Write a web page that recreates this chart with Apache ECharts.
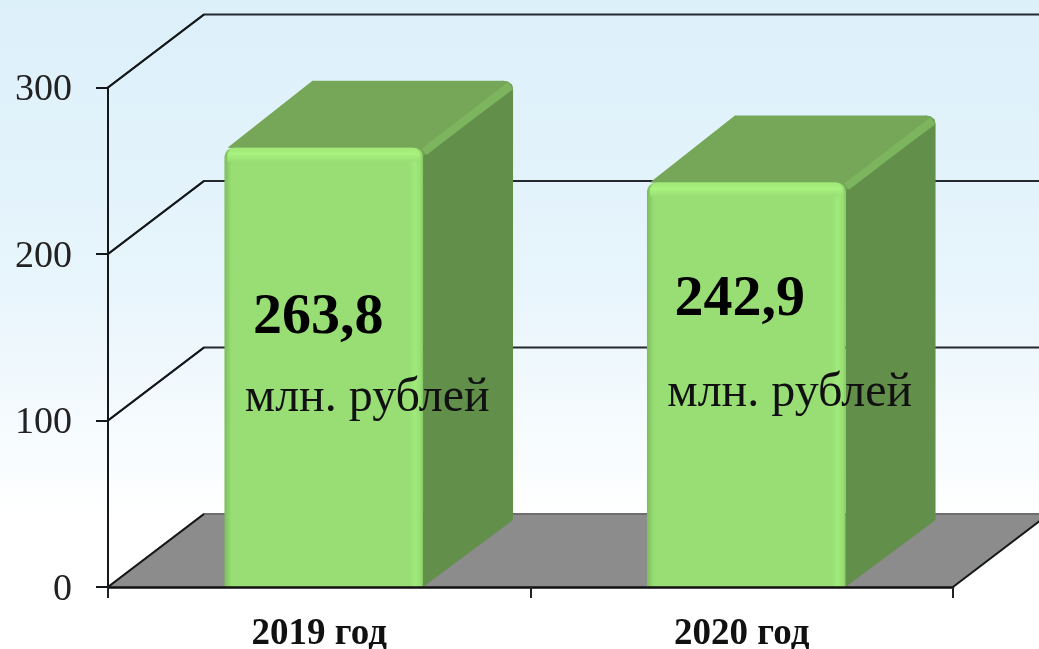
<!DOCTYPE html>
<html>
<head>
<meta charset="utf-8">
<title>chart</title>
<script src="https://cdn.jsdelivr.net/npm/echarts@6/dist/echarts.min.js"></script>
<style>
  html, body { margin: 0; padding: 0; background: #fff; }
  #main { width: 1039px; height: 649px; filter: blur(0.5px); }
</style>
</head>
<body>
<div id="main"></div>
<script>
var categories = ['2019 год', '2020 год']
var values = [263.8, 242.9]
var yTicks = [0, 100, 200, 300]
var unitText = 'млн. рублей'

// fake 3d: how far the back wall sits from the front plane
var WALL_DX = 96
var WALL_DY = -73
var BAR_DX = 90
var BAR_DY = -67
var BAR_SHIFT = 4.5
var BAR_RATIO = 0.47
var FONT = '"Liberation Serif", serif'
// label offsets from the bar foot, per bar
var valueShift = [[-5.5, -269], [-6.5, -287]]
var unitShift = [[43.5, -189], [43.5, -194]]

var chart = echarts.init(document.getElementById('main'))

function grad(x2, y2, stops) {
  return new echarts.graphic.LinearGradient(0, 0, x2, y2, stops.map(function (s) {
    return { offset: s[0], color: s[1] }
  }))
}

function renderWall(params, api) {
  var v = api.value(1)
  var rect = params.coordSys
  var y = api.coord([0, v])[1]
  var x0 = rect.x
  var x1 = rect.x + rect.width
  var out = []
  if (v === 0) {
    out.push({
      type: 'polygon',
      shape: { points: [[x0, y], [x0 + WALL_DX, y + WALL_DY], [x1 + WALL_DX, y + WALL_DY], [x1, y]] },
      style: { fill: '#8c8c8c' }
    })
  }
  out.push({
    type: 'polyline',
    shape: { points: [[x0, y], [x0 + WALL_DX, y + WALL_DY], [x1 + WALL_DX, y + WALL_DY]] },
    style: { fill: 'none', stroke: v === 0 ? '#6e6e6e' : '#23292e', lineWidth: 2 }
  })
  out.push({
    type: 'line',
    shape: { x1: x0, y1: y, x2: x0 + WALL_DX, y2: y + WALL_DY },
    style: { stroke: '#15181a', lineWidth: 2 }
  })
  if (v === 0) {
    out.push({
      type: 'line',
      shape: { x1: x1, y1: y, x2: x1 + WALL_DX, y2: y + WALL_DY },
      style: { stroke: '#15181a', lineWidth: 2 }
    })
  }
  return { type: 'group', children: out }
}

function renderBar(params, api) {
  var i = api.value(0)
  var top = api.coord([i, api.value(1)])
  var foot = api.coord([i, 0])
  var band = api.size([1, 0])[0]
  var w = band * BAR_RATIO
  var cx = foot[0] + BAR_SHIFT
  var xl = cx - w / 2
  var xr = cx + w / 2
  var yt = top[1]
  var yb = foot[1]
  var val = String(api.value(1)).replace('.', ',')
  // rounded back corner shared by the top and the side face
  var corner = [[xr + BAR_DX - 10, yt + BAR_DY], [xr + BAR_DX - 5, yt + BAR_DY + 1], [xr + BAR_DX - 1, yt + BAR_DY + 4], [xr + BAR_DX, yt + BAR_DY + 9]]
  return {
    type: 'group',
    children: [
      {
        type: 'polygon',
        shape: { points: [[xr, yt]].concat(corner, [[xr + BAR_DX, yb + BAR_DY], [xr, yb]]) },
        style: { fill: '#628f4a' }
      },
      {
        type: 'polygon',
        shape: { points: [[xl + 3, yt], [xl + BAR_DX - 2, yt + BAR_DY]].concat(corner, [[xr, yt + 8]]) },
        style: { fill: '#76a657' }
      },
      {
        type: 'line',
        shape: { x1: xr + 1, y1: yt + 4, x2: xr + BAR_DX - 3, y2: yt + BAR_DY + 5 },
        style: { stroke: '#7cb55e', lineWidth: 8 }
      },
      {
        type: 'rect',
        shape: { x: xl, y: yt, width: w, height: yb - yt, r: [9, 9, 0, 0] },
        style: {
          fill: grad(1, 0, [[0, '#7cbd5c'], [0.035, '#98de74'], [0.93, '#98de74'], [0.96, '#a0ea7c'], [0.99, '#96dc72'], [1, '#80c460']])
        }
      },
      {
        type: 'rect',
        shape: { x: xl + 3, y: yt, width: w - 6, height: 14, r: [8, 8, 0, 0] },
        style: { fill: grad(0, 1, [[0, '#a0e878'], [0.45, '#a8f27e'], [1, '#98de74']]) }
      },
      {
        type: 'text',
        x: cx + valueShift[i][0],
        y: yb + valueShift[i][1],
        style: { text: val, font: 'bold 58px ' + FONT, fill: '#000', align: 'center', verticalAlign: 'middle' }
      },
      {
        type: 'text',
        x: cx + unitShift[i][0],
        y: yb + unitShift[i][1],
        style: { text: unitText, font: '48px ' + FONT, fill: '#111', align: 'center', verticalAlign: 'middle' }
      }
    ]
  }
}

var option = {
  animation: false,
  backgroundColor: grad(0, 1, [[0, '#dcf0fa'], [0.45, '#e8f5fc'], [0.8, '#ffffff'], [1, '#ffffff']]),
  grid: { left: 108, right: 86, top: 87.5, bottom: 62, outerBoundsMode: 'none' },
  xAxis: {
    type: 'category',
    data: categories,
    z: 3,
    axisLine: { lineStyle: { color: '#111', width: 2.5 } },
    axisTick: { show: true, length: 11, alignWithLabel: false, lineStyle: { color: '#222', width: 2 } },
    axisLabel: { color: '#111', fontFamily: FONT, fontWeight: 'bold', fontSize: 37, margin: 29 }
  },
  yAxis: {
    type: 'value',
    min: 0,
    max: 300,
    interval: 100,
    z: 3,
    splitLine: { show: false },
    axisLine: { show: true, lineStyle: { color: '#15181a', width: 2 } },
    axisTick: { show: true, length: 12, lineStyle: { color: '#15181a', width: 2 } },
    // labels sit a little under their ticks in the original
    axisLabel: { color: '#222', fontFamily: FONT, fontSize: 38, margin: 36, verticalAlign: 'top', lineHeight: 6 }
  },
  series: [
    {
      name: 'walls',
      type: 'custom',
      z: 1,
      silent: true,
      clip: false,
      renderItem: renderWall,
      encode: { x: 0, y: 1 },
      data: yTicks.map(function (v) { return [0, v] })
    },
    {
      name: 'bars',
      type: 'custom',
      z: 2,
      clip: false,
      renderItem: renderBar,
      encode: { x: 0, y: 1 },
      data: values.map(function (v, i) { return [i, v] })
    }
  ]
}
chart.setOption(option)
</script>
</body>
</html>
